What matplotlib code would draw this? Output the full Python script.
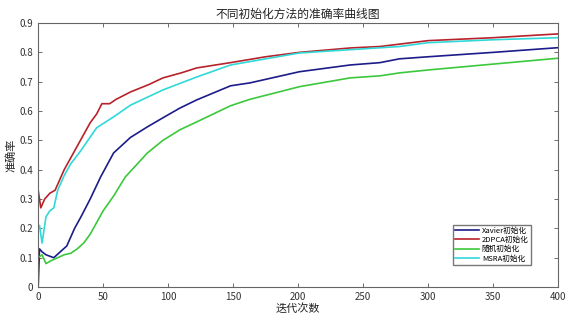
import matplotlib

matplotlib.use("Agg")
import matplotlib.pyplot as plt

plt.rcParams["font.family"] = ["Noto Sans CJK SC", "DejaVu Sans"]

# 迭代次数 / 准确率
x_xavier = [0, 1, 3, 6, 12, 17, 22, 28, 33, 40, 48, 58, 71, 84, 96, 109, 122, 148,
            163, 201, 240, 263, 278, 300, 350, 400]
y_xavier = [0.0, 0.13, 0.12, 0.11, 0.10, 0.12, 0.14, 0.20, 0.24, 0.30, 0.375, 0.457,
            0.51, 0.546, 0.577, 0.61, 0.638, 0.686, 0.696, 0.734, 0.757, 0.765,
            0.778, 0.785, 0.80, 0.816]

x_2dpca = [0, 2, 5, 9, 13, 16, 20, 25, 30, 35, 40, 45, 49, 55, 60, 71, 85, 96, 110,
           122, 148, 175, 201, 240, 263, 300, 350, 400]
y_2dpca = [0.33, 0.27, 0.30, 0.32, 0.33, 0.36, 0.40, 0.44, 0.48, 0.52, 0.56, 0.59,
           0.625, 0.625, 0.64, 0.665, 0.69, 0.713, 0.73, 0.747, 0.765, 0.785, 0.80,
           0.815, 0.82, 0.84, 0.85, 0.863]

x_random = [0, 3, 6, 10, 15, 20, 25, 30, 35, 40, 45, 50, 58, 67, 84, 96, 109, 122,
            148, 163, 201, 240, 263, 278, 300, 350, 400]
y_random = [0.10, 0.11, 0.08, 0.09, 0.10, 0.11, 0.115, 0.13, 0.15, 0.18, 0.22, 0.26,
            0.31, 0.375, 0.457, 0.50, 0.536, 0.563, 0.618, 0.64, 0.683, 0.713, 0.72,
            0.73, 0.74, 0.76, 0.78]

x_msra = [0, 1, 3, 6, 9, 12, 15, 20, 25, 32, 45, 58, 71, 96, 122, 148, 201, 278,
          300, 350, 400]
y_msra = [0.20, 0.21, 0.15, 0.24, 0.26, 0.27, 0.33, 0.38, 0.42, 0.46, 0.543, 0.58,
          0.62, 0.672, 0.716, 0.757, 0.798, 0.82, 0.833, 0.843, 0.85]

labels = ["Xavier初始化", "2DPCA初始化", "随机初始化", "MSRA初始化"]
colors = ["#1c1c8a", "#b8222a", "#3cc83c", "#30d8d8"]

fig = plt.figure(figsize=(5.7, 3.2), dpi=100)
ax = fig.add_axes([0.067, 0.103, 0.912, 0.825])

series = [(x_xavier, y_xavier), (x_2dpca, y_2dpca), (x_random, y_random), (x_msra, y_msra)]
for (xs, ys), lab, col in zip(series, labels, colors):
    ax.plot(xs, ys, color=col, lw=1.2, label=lab)

ax.set_xlim(0, 400)
ax.set_ylim(0, 0.9)
ax.set_xticks(range(0, 401, 50))
ax.set_yticks([0, 0.1, 0.2, 0.3, 0.4, 0.5, 0.6, 0.7, 0.8, 0.9])
ax.set_yticklabels(["0", "0.1", "0.2", "0.3", "0.4", "0.5", "0.6", "0.7", "0.8", "0.9"])
ax.tick_params(direction="in", top=True, right=True, labelsize=7, length=3,
               color="#555555", labelcolor="#333333", width=0.6)
for sp in ax.spines.values():
    sp.set_color("#666666")
    sp.set_linewidth(0.8)

ax.set_title("不同初始化方法的准确率曲线图", fontsize=8.5, color="#222222", pad=4)
ax.set_xlabel("迭代次数", fontsize=8, color="#222222", labelpad=1)
ax.set_ylabel("准确率", fontsize=8, color="#222222", labelpad=2)

ax.legend(loc="lower right", bbox_to_anchor=(0.955, 0.07), fontsize=5.5,
          frameon=True, fancybox=False, edgecolor="#555555", handlelength=3.2,
          handletextpad=0.3, borderpad=0.3, labelspacing=0.15)

fig.savefig("out.png", dpi=100)
